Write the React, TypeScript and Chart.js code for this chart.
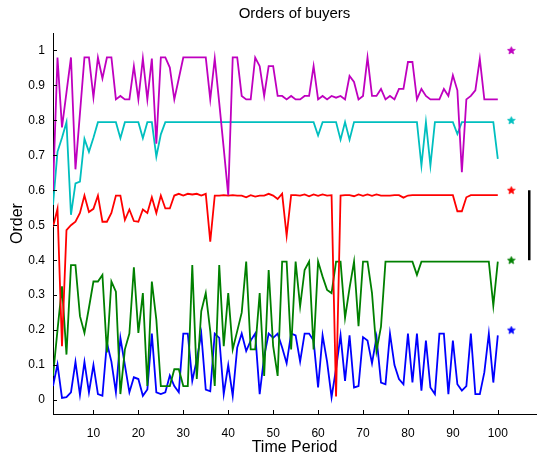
import React, { useEffect, useRef } from "react";
import { Chart, registerables } from "chart.js";

Chart.register(...registerables);

// Orders per time period (t = 1..100) for each buyer
const buyer5Magenta = [
  0.60, 0.98, 0.78, 0.88, 0.98, 0.66, 0.82, 0.98, 0.98, 0.866,
  0.98, 0.92, 0.98, 0.98, 0.86, 0.87, 0.86, 0.86, 0.955, 0.86,
  0.977, 0.86, 0.977, 0.733, 0.98, 0.98, 0.951, 0.86, 0.92, 0.98,
  0.98, 0.98, 0.98, 0.98, 0.98, 0.86, 0.977, 0.85, 0.72, 0.586,
  0.98, 0.98, 0.87, 0.86, 0.86, 0.98, 0.955, 0.87, 0.955, 0.955,
  0.87, 0.87, 0.86, 0.87, 0.86, 0.86, 0.87, 0.87, 0.955, 0.86,
  0.87, 0.86, 0.87, 0.865, 0.87, 0.86, 0.927, 0.91, 0.86, 0.87,
  0.98, 0.87, 0.87, 0.89, 0.86, 0.87, 0.86, 0.89, 0.89, 0.967,
  0.967, 0.86, 0.89, 0.87, 0.86, 0.86, 0.86, 0.89, 0.87, 0.929,
  0.886, 0.652, 0.86, 0.87, 0.886, 0.976, 0.86, 0.86, 0.86, 0.86,
];

const buyer4Cyan = [
  0.558, 0.71, 0.75, 0.795, 0.53, 0.62, 0.625, 0.747, 0.71, 0.75,
  0.795, 0.795, 0.795, 0.795, 0.795, 0.749, 0.795, 0.795, 0.795, 0.795,
  0.749, 0.795, 0.795, 0.696, 0.76, 0.795, 0.795, 0.795, 0.795, 0.795,
  0.795, 0.795, 0.795, 0.795, 0.795, 0.795, 0.795, 0.795, 0.795, 0.795,
  0.795, 0.795, 0.795, 0.795, 0.795, 0.795, 0.795, 0.795, 0.795, 0.795,
  0.795, 0.795, 0.795, 0.795, 0.795, 0.795, 0.795, 0.795, 0.795, 0.757,
  0.795, 0.795, 0.795, 0.795, 0.745, 0.795, 0.745, 0.795, 0.795, 0.795,
  0.795, 0.795, 0.795, 0.795, 0.795, 0.795, 0.795, 0.795, 0.795, 0.795,
  0.795, 0.795, 0.671, 0.795, 0.671, 0.795, 0.795, 0.795, 0.795, 0.795,
  0.761, 0.795, 0.795, 0.795, 0.795, 0.795, 0.795, 0.795, 0.795, 0.69,
];

const buyer3Red = [
  0.495, 0.547, 0.154, 0.486, 0.50, 0.51, 0.535, 0.585, 0.538, 0.547,
  0.585, 0.51, 0.51, 0.535, 0.585, 0.585, 0.515, 0.545, 0.512, 0.51,
  0.545, 0.535, 0.58, 0.535, 0.585, 0.548, 0.548, 0.585, 0.59, 0.585,
  0.59, 0.588, 0.59, 0.585, 0.59, 0.453, 0.585, 0.585, 0.586, 0.585,
  0.586, 0.585, 0.585, 0.58, 0.586, 0.582, 0.585, 0.585, 0.59, 0.585,
  0.575, 0.59, 0.47, 0.586, 0.586, 0.585, 0.588, 0.583, 0.588, 0.584,
  0.588, 0.585, 0.586, 0.01, 0.585, 0.586, 0.586, 0.583, 0.588, 0.584,
  0.588, 0.584, 0.588, 0.585, 0.585, 0.585, 0.586, 0.586, 0.579, 0.585,
  0.586, 0.586, 0.586, 0.586, 0.586, 0.586, 0.586, 0.586, 0.586, 0.586,
  0.54, 0.54, 0.58, 0.586, 0.586, 0.586, 0.586, 0.586, 0.586, 0.586,
];

const buyer2Green = [
  0.069, 0.2, 0.325, 0.13, 0.386, 0.386, 0.24, 0.192, 0.264, 0.339,
  0.339, 0.358, 0.136, 0.339, 0.31, 0.017, 0.145, 0.19, 0.38, 0.192,
  0.306, 0.04, 0.339, 0.23, 0.04, 0.04, 0.04, 0.088, 0.088, 0.04,
  0.04, 0.386, 0.06, 0.254, 0.306, 0.197, 0.04, 0.386, 0.154, 0.306,
  0.145, 0.197, 0.25, 0.396, 0.145, 0.145, 0.306, 0.069, 0.372, 0.154,
  0.069, 0.396, 0.396, 0.145, 0.396, 0.268, 0.372, 0.396, 0.145, 0.396,
  0.353, 0.315, 0.306, 0.396, 0.396, 0.235, 0.32, 0.396, 0.211, 0.396,
  0.396, 0.306, 0.14, 0.21, 0.396, 0.396, 0.396, 0.396, 0.396, 0.396,
  0.396, 0.358, 0.396, 0.396, 0.396, 0.396, 0.396, 0.396, 0.396, 0.396,
  0.396, 0.396, 0.396, 0.396, 0.396, 0.396, 0.396, 0.396, 0.27, 0.396,
];

const buyer1Blue = [
  0.04, 0.102, 0.006, 0.008, 0.022, 0.109, 0.015, 0.109, 0.022, 0.10,
  0.017, 0.012, 0.164, 0.11, 0.022, 0.178, 0.1, 0.022, 0.065, 0.06,
  0.012, 0.03, 0.19, 0.022, 0.017, 0.022, 0.07, 0.04, 0.022, 0.19,
  0.19, 0.055, 0.115, 0.19, 0.03, 0.025, 0.19, 0.178, 0.017, 0.10,
  0.012, 0.15, 0.19, 0.14, 0.17, 0.19, 0.017, 0.125, 0.19, 0.178,
  0.19, 0.15, 0.105, 0.19, 0.185, 0.11, 0.19, 0.19, 0.17, 0.036,
  0.185, 0.11, 0.008, 0.09, 0.185, 0.055, 0.185, 0.036, 0.04, 0.18,
  0.17, 0.105, 0.18, 0.05, 0.045, 0.19, 0.10, 0.06, 0.045, 0.19,
  0.05, 0.19, 0.027, 0.17, 0.036, 0.017, 0.19, 0.19, 0.017, 0.17,
  0.045, 0.027, 0.04, 0.19, 0.017, 0.017, 0.079, 0.19, 0.05, 0.185,
];

// Star markers (one per buyer) and the black reference bar
const markerX = 103;
const markerY = [1, 0.8, 0.6, 0.4, 0.2];
const barX = 107;
const barY = [0.6, 0.4];

const C_MAGENTA = "#bf00bf";
const C_CYAN = "#00bfbf";
const C_RED = "#ff0000";
const C_GREEN = "#008000";
const C_BLUE = "#0000ff";
const markerColors = [C_MAGENTA, C_CYAN, C_RED, C_GREEN, C_BLUE];

const FONT = "'Liberation Sans', Arial, Helvetica, sans-serif";

function pentagram(color: string): HTMLCanvasElement {
  const c = document.createElement("canvas");
  c.width = 9;
  c.height = 9;
  const g = c.getContext("2d")!;
  const cx = 4.5, cy = 4.7, R = 4.0, r = 1.8;
  g.beginPath();
  for (let i = 0; i < 10; i++) {
    const a = -Math.PI / 2 + (i * Math.PI) / 5;
    const rr = i % 2 === 0 ? R : r;
    const x = cx + rr * Math.cos(a);
    const y = cy + rr * Math.sin(a);
    if (i === 0) g.moveTo(x, y);
    else g.lineTo(x, y);
  }
  g.closePath();
  g.fillStyle = color;
  g.fill();
  g.strokeStyle = color;
  g.lineWidth = 0.8;
  g.stroke();
  return c;
}

export default function App() {
  const ref = useRef<HTMLCanvasElement>(null);

  useEffect(() => {
    document.body.style.margin = "0";
    const canvas = ref.current!;
    const toXY = (arr: number[]) => arr.map((v, i) => ({ x: i + 1, y: v }));
    const line = (label: string, arr: number[], color: string) => ({
      label,
      data: toXY(arr),
      borderColor: color,
      backgroundColor: color,
      borderWidth: 1.8,
      pointRadius: 0,
      tension: 0,
      fill: false,
    });

    const decor = {
      id: "decor",
      afterDraw(chart: any) {
        const { ctx, chartArea, scales } = chart;
        const xs = scales.x;
        const ys = scales.y;
        ctx.save();
        ctx.strokeStyle = "#000";
        ctx.lineWidth = 1;
        // inward ticks
        xs.ticks.forEach((t: any) => {
          const px = Math.round(xs.getPixelForValue(t.value)) + 0.5;
          ctx.beginPath();
          ctx.moveTo(px, chartArea.bottom);
          ctx.lineTo(px, chartArea.bottom - 4);
          ctx.stroke();
        });
        ys.ticks.forEach((t: any) => {
          const py = Math.round(ys.getPixelForValue(t.value)) + 0.5;
          ctx.beginPath();
          ctx.moveTo(chartArea.left, py);
          ctx.lineTo(chartArea.left + 4, py);
          ctx.stroke();
        });
        ctx.fillStyle = "#000";
        ctx.textAlign = "center";
        ctx.textBaseline = "middle";
        ctx.font = `15px ${FONT}`;
        ctx.fillText("Orders of buyers", (chartArea.left + chartArea.right) / 2, 14);
        ctx.font = `16px ${FONT}`;
        ctx.fillText("Time Period", (chartArea.left + chartArea.right) / 2, 448);
        ctx.translate(18, (chartArea.top + chartArea.bottom) / 2);
        ctx.rotate(-Math.PI / 2);
        ctx.fillText("Order", 0, 0);
        ctx.restore();
      },
    };

    const chart = new Chart(canvas, {
      type: "line",
      data: {
        datasets: [
          line("Buyer 5", buyer5Magenta, C_MAGENTA),
          line("Buyer 4", buyer4Cyan, C_CYAN),
          line("Buyer 3", buyer3Red, C_RED),
          line("Buyer 2", buyer2Green, C_GREEN),
          line("Buyer 1", buyer1Blue, C_BLUE),
          {
            label: "markers",
            data: markerY.map((y) => ({ x: markerX, y })),
            showLine: false,
            pointStyle: markerColors.map((c) => pentagram(c)),
            pointRadius: 4,
            borderColor: markerColors,
            backgroundColor: markerColors,
          } as any,
          {
            label: "bar",
            data: barY.map((y) => ({ x: barX, y })),
            borderColor: "#000",
            borderWidth: 2.5,
            pointRadius: 0,
          },
        ],
      },
      options: {
        responsive: false,
        animation: false,
        events: [],
        layout: { padding: { top: 33, right: 1, left: 0, bottom: 0 } },
        plugins: {
          legend: { display: false },
          tooltip: { enabled: false },
          title: { display: false },
        },
        scales: {
          x: {
            type: "linear",
            min: 1,
            max: 108.5,
            grid: { display: false, drawTicks: false },
            border: { display: true, color: "#000", width: 1 },
            ticks: {
              stepSize: 10,
              includeBounds: false,
              color: "#000",
              font: { family: FONT, size: 12 },
              maxRotation: 0,
              autoSkip: false,
              padding: 12,
            },
            afterFit: (s: any) => {
              s.height = 47;
            },
          },
          y: {
            type: "linear",
            min: -0.04,
            max: 1.05,
            grid: { display: false, drawTicks: false },
            border: { display: true, color: "#000", width: 1 },
            ticks: {
              stepSize: 0.1,
              includeBounds: false,
              color: "#000",
              font: { family: FONT, size: 12 },
              autoSkip: false,
              padding: 8,
              callback: (v: any) => {
                const n = Math.round(Number(v) * 10) / 10;
                return String(n);
              },
            },
            afterFit: (s: any) => {
              s.width = 53;
            },
          },
        },
      },
      plugins: [decor],
    });
    return () => chart.destroy();
  }, []);

  return (
    <canvas
      ref={ref}
      width={541}
      height={461}
      style={{ display: "block", width: 541, height: 461 }}
    />
  );
}
